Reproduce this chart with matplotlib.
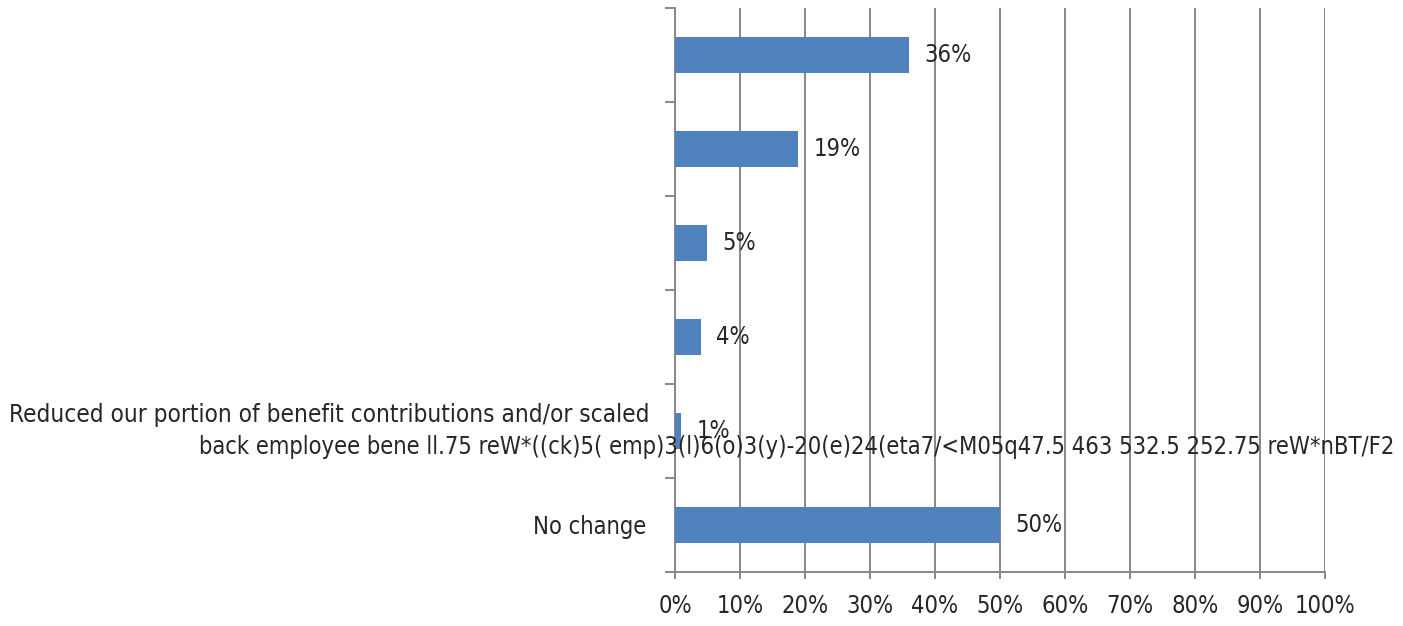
import matplotlib.pyplot as plt
from matplotlib.ticker import FixedLocator, PercentFormatter

plt.rcParams['font.family'] = ['DejaVu Sans']
plt.rcParams['font.stretch'] = 'condensed'

# labels as they appear in the reference (first four are blank there)
categories = ["", "", "", "",
              "Reduced our portion of benefit contributions and/or scaled",
              "No change"]
label_overflow = ("back employee bene ll.75 reW*((ck)5( emp)3(l)6(o)3(y)-20(e)24"
                  "(eta7/<M05q47.5 463 532.5 252.75 reW*nBT/F2")
values = [36, 19, 5, 4, 1, 50]
xticks = list(range(0, 101, 10))

grey = '#878787'
txt = '#262626'
fig = plt.figure(figsize=(14.03, 6.26), dpi=100)
ax = fig.add_axes([0.4811, 0.0863, 0.4633, 0.9009])

pos = list(range(len(categories)))
bars = ax.barh(pos, values, height=0.39, color='#4F81BD', zorder=3)
ax.bar_label(bars, labels=[f"{v}%" for v in values], padding=11,
             fontsize=17, color=txt)

ax.set_xlim(0, 100)
ax.set_ylim(len(categories) - 0.5, -0.5)
ax.set_xticks(xticks)
ax.xaxis.set_major_formatter(PercentFormatter(decimals=0))
ax.grid(axis='x', color=grey, linewidth=1.4, zorder=0)

ax.set_yticks(pos)
ax.set_yticklabels(["", "", "", "", "", categories[5]])
ax.yaxis.set_minor_locator(FixedLocator([p - 0.5 for p in pos] + [pos[-1] + 0.5]))
ax.tick_params(axis='y', which='major', length=0, pad=21, labelsize=17, labelcolor=txt)
ax.tick_params(axis='y', which='minor', length=7, width=1.4, color=grey)
ax.tick_params(axis='x', length=5, width=1.4, color=grey, pad=11,
               labelsize=17, labelcolor=txt)

# the garbled two-line label of the fifth bar
ax.text(-3.9, 4 - 0.17, categories[4], ha='right', va='center', fontsize=17.5,
        color=txt, clip_on=False)
ax.text(-73.2, 4 + 0.17, label_overflow, ha='left', va='center', fontsize=17,
        color=txt, clip_on=False, zorder=5)

for side in ['top', 'right']:
    ax.spines[side].set_visible(False)
for side in ['left', 'bottom']:
    ax.spines[side].set_color(grey)
    ax.spines[side].set_linewidth(1.4)

fig.savefig('out.png', dpi=100)
